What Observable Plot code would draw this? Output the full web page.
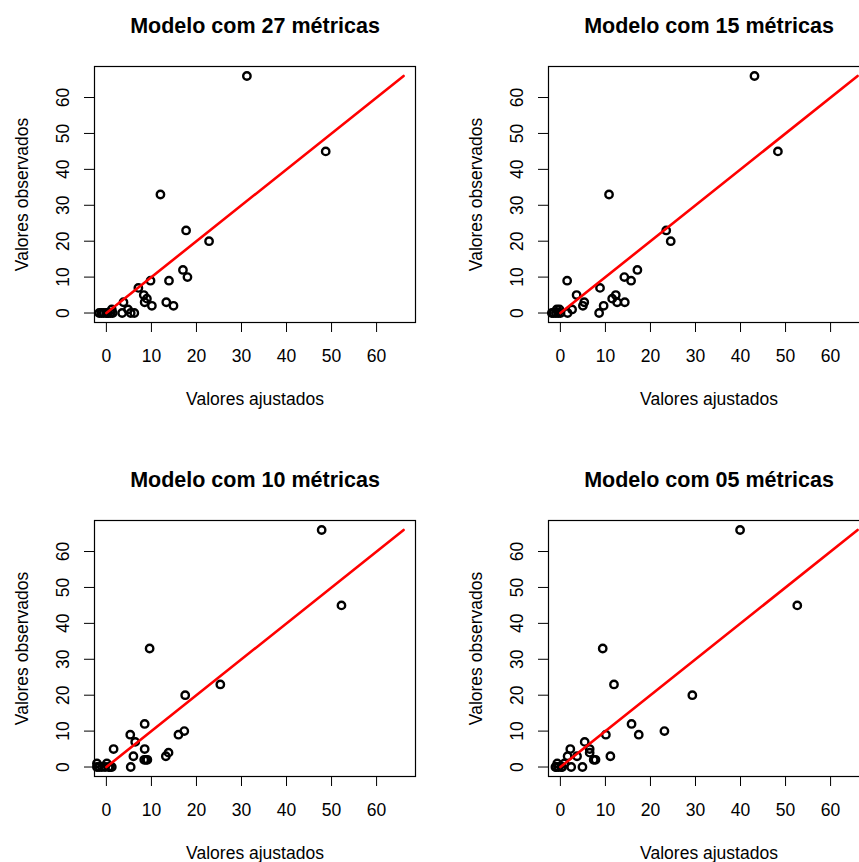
<!DOCTYPE html>
<html><head><meta charset="utf-8">
<script src="https://cdn.jsdelivr.net/npm/d3@7"></script>
<script src="https://cdn.jsdelivr.net/npm/@observablehq/plot@0.6"></script>
<style>
html,body{margin:0;padding:0;background:#fff;}
#wrap{position:relative;width:859px;height:862px;overflow:hidden;background:#fff;}
.panel{position:absolute;width:454px;height:454px;}
</style></head><body><div id="wrap"></div>
<script>
const titles = ["Modelo com 27 métricas", "Modelo com 15 métricas", "Modelo com 10 métricas", "Modelo com 05 métricas"];
const xLabel = "Valores ajustados";
const yLabel = "Valores observados";

const fitted27   = [31.2, 48.7, 12.0, 17.7, 22.8, 17.0, 18.0, 9.8, 13.9, 7.1, 8.3, 9.0, 3.8, 8.5, 13.3, 10.1, 14.9, 1.2, 4.8, 3.5, 5.4, 6.2, -1.6, -1.1, -0.6, 0.0, 0.4, 0.9, 1.4, 0.2];
const observed27 = [66, 45, 33, 23, 20, 12, 10, 9, 9, 7, 5, 4, 3, 3, 3, 2, 2, 1, 1, 0, 0, 0, 0, 0, 0, 0, 0, 0, 0, 0];

const fitted15   = [43.1, 48.3, 10.8, 23.5, 24.5, 17.1, 14.2, 15.7, 1.5, 8.8, 3.6, 12.3, 11.5, 5.3, 12.6, 14.3, 5.0, 9.6, 2.6, 8.6, 1.6, -0.2, -0.5, -1.0, -1.5, -1.9, 0.0, -0.8];
const observed15 = [66, 45, 33, 23, 20, 12, 10, 9, 9, 7, 5, 5, 4, 3, 3, 3, 2, 2, 1, 0, 0, 1, 0, 0, 0, 0, 0, 1];

const fitted10   = [47.8, 52.2, 9.6, 25.3, 17.5, 8.5, 17.3, 16.0, 5.3, 6.4, 1.6, 8.5, 13.8, 6.0, 13.2, 8.4, 8.8, 9.1, 5.4, -2.1, -2.1, -1.6, -1.0, -0.3, 0.1, 0.8, 1.2, 0.5];
const observed10 = [66, 45, 33, 23, 20, 12, 10, 9, 9, 7, 5, 5, 4, 3, 3, 2, 2, 2, 0, 1, 0, 0, 0, 0, 1, 0, 0, 0];

const fitted05   = [39.9, 52.6, 9.4, 11.9, 29.3, 15.8, 23.1, 17.4, 10.1, 5.4, 2.2, 6.5, 6.5, 1.6, 3.7, 11.1, 7.4, 7.8, 4.9, 2.4, -1.1, -0.7, -0.4, 0.2, 0.9, -0.9, 0.4];
const observed05 = [66, 45, 33, 23, 20, 12, 10, 9, 9, 7, 5, 5, 4, 3, 3, 3, 2, 2, 0, 0, 0, 1, 0, 0, 1, 0, 0];

const ticks = [0, 10, 20, 30, 40, 50, 60];
const limits = [0, 66];
const lineX = [0, 66];
const lineY = [0, 66];

const FONT = "'Liberation Sans', Arial, Helvetica, sans-serif";

function panel(title, fitted, observed) {
  const pts = fitted.map((f, i) => ({x: f, y: observed[i]}));
  const seg = lineX.map((v, i) => ({x: v, y: lineY[i]}));
  const ext = (limits[1] - limits[0]) * 0.04;
  const dom = [limits[0] - ext, limits[1] + ext];
  return Plot.plot({
    width: 454, height: 454,
    marginLeft: 94, marginRight: 39, marginTop: 66, marginBottom: 132,
    style: {fontFamily: FONT, background: "white", color: "black", overflow: "visible"},
    x: {domain: dom},
    y: {domain: dom},
    marks: [
      Plot.axisX({ticks, tickSize: 10, tickPadding: 17, fontSize: 17.5, label: null}),
      Plot.axisY({ticks, tickSize: 10, tickPadding: 16, tickRotate: -90, fontSize: 17.5, label: null}),
      Plot.frame({stroke: "black", strokeWidth: 1.2}),
      Plot.dot(pts, {x: "x", y: "y", r: 3.7, stroke: "black", strokeWidth: 2.4, fill: "none"}),
      Plot.line(seg, {x: "x", y: "y", stroke: "red", strokeWidth: 2.6}),
      Plot.text([title], {text: d => d, frameAnchor: "top", dy: -34, lineAnchor: "bottom", fontSize: 21.5, fontWeight: "bold", fill: "black"}),
      Plot.text([xLabel], {text: d => d, frameAnchor: "bottom", dy: 82, lineAnchor: "bottom", fontSize: 17.5, fill: "black"}),
      Plot.text([yLabel], {text: d => d, frameAnchor: "left", dx: -67, rotate: -90, textAnchor: "middle", lineAnchor: "bottom", fontSize: 17.5, fill: "black"})
    ]
  });
}

const wrap = document.getElementById("wrap");
const panels = [
  [titles[0], fitted27, observed27, 0, 0],
  [titles[1], fitted15, observed15, 454, 0],
  [titles[2], fitted10, observed10, 0, 454],
  [titles[3], fitted05, observed05, 454, 454]
];
for (const [t, f, o, left, top] of panels) {
  const div = document.createElement("div");
  div.className = "panel";
  div.style.left = left + "px";
  div.style.top = top + "px";
  div.appendChild(panel(t, f, o));
  wrap.appendChild(div);
}
</script>
</body></html>
